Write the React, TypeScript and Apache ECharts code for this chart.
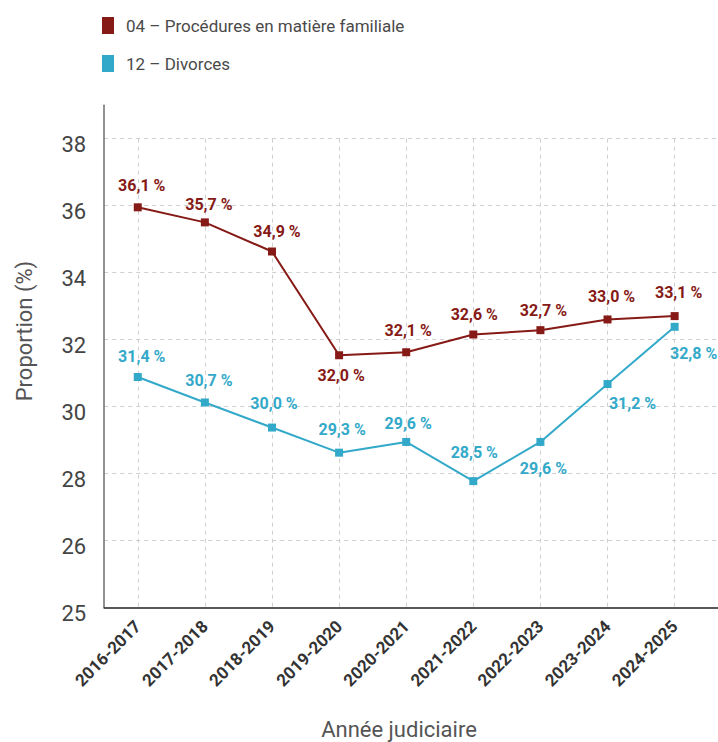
import React, { useEffect, useRef } from "react";
import * as echarts from "echarts";

// ---- data ----
const categories = [
  "2016-2017",
  "2017-2018",
  "2018-2019",
  "2019-2020",
  "2020-2021",
  "2021-2022",
  "2022-2023",
  "2023-2024",
  "2024-2025",
];
const familialName = "04 – Procédures en matière familiale";
const divorceName = "12 – Divorces";
const familialValues = [35.95, 35.5, 34.63, 31.53, 31.62, 32.15, 32.28, 32.6, 32.7];
const familialLabels = ["36,1 %", "35,7 %", "34,9 %", "32,0 %", "32,1 %", "32,6 %", "32,7 %", "33,0 %", "33,1 %"];
const divorceValues = [30.88, 30.12, 29.37, 28.62, 28.94, 27.77, 28.94, 30.67, 32.38];
const divorceLabels = ["31,4 %", "30,7 %", "30,0 %", "29,3 %", "29,6 %", "28,5 %", "29,6 %", "31,2 %", "32,8 %"];
const yMin = 24;
const yMinLabel = "25";
const yMax = 38;
const yStep = 2;

// ---- layout / style (label placement offsets, px) ----
const familialLabelOffsets: [number, number][] = [
  [4, -22], [4, -18], [5, -20], [2, 20], [2, -22], [1, -20], [3, -20], [4, -23], [4, -24],
];
const divorceLabelOffsets: [number, number][] = [
  [4, -21], [4, -22], [2, -24], [3, -23], [2, -18], [1, -29], [3, 27], [25, 19], [19, 27],
];

const RED = "#861a16";
const CYAN = "#33a9c9";
const FONT = "Roboto, 'Noto Sans', sans-serif";

export default function App() {
  const ref = useRef<HTMLDivElement>(null);
  useEffect(() => {
    if (!ref.current) return;
    const chart = echarts.init(ref.current, undefined, { renderer: "svg" });
    const gridLeft = 104.2;
    const gridBottom = 742 - 607.3;
    const mkSeries = (
      name: string,
      values: number[],
      labels: string[],
      offsets: [number, number][],
      color: string
    ) => ({
      type: "line",
      name,
      xAxisIndex: 0,
      yAxisIndex: 0,
      data: values.map((v, i) => ({ value: v, label: { offset: offsets[i] } })),
      symbol: "rect",
      symbolSize: 8,
      lineStyle: { color, width: 2 },
      itemStyle: { color },
      label: {
        show: true,
        position: "inside",
        formatter: (p: any) => labels[p.dataIndex],
        color,
        fontFamily: FONT,
        fontWeight: "bold",
        fontSize: 16,
      },
      emphasis: { disabled: true },
    });
    chart.setOption({
      animation: false,
      backgroundColor: "#ffffff",
      legend: {
        left: 102,
        top: 17,
        padding: 0,
        orient: "vertical",
        icon: "rect",
        itemWidth: 12,
        itemHeight: 17,
        itemGap: 21,
        selectedMode: false,
        textStyle: {
          fontFamily: FONT,
          fontSize: 17,
          color: "#4a4a4a",
          lineHeight: 17,
          padding: [0, 0, 0, 7],
        },
        data: [familialName, divorceName],
      },
      grid: [
        { left: gridLeft, right: 718 - 708.2, top: 138.7, bottom: gridBottom },
        { left: gridLeft, right: 0, top: 138.7 - 33.47, bottom: gridBottom },
      ],
      xAxis: [
        {
          type: "category",
          gridIndex: 0,
          data: categories,
          boundaryGap: true,
          axisLine: { show: false },
          axisTick: { show: false },
          axisLabel: {
            interval: 0,
            rotate: 45,
            margin: 16,
            color: "#333",
            fontFamily: FONT,
            fontWeight: "bold",
            fontSize: 17,
          },
          splitLine: {
            show: true,
            alignWithLabel: true,
            interval: 0,
            lineStyle: { color: "#cfcfcf", type: [4, 4], width: 1 },
          },
        },
        {
          type: "value",
          gridIndex: 1,
          min: 0,
          max: 1,
          axisLine: { show: true, onZero: false, lineStyle: { color: "#222", width: 1.6 } },
          axisTick: { show: false },
          axisLabel: { show: false },
          splitLine: { show: false },
        },
      ],
      yAxis: [
        {
          type: "value",
          gridIndex: 0,
          min: yMin,
          max: yMax,
          interval: yStep,
          show: false,
          splitLine: { show: false },
        },
        {
          type: "value",
          gridIndex: 1,
          min: yMin,
          max: yMax + 1,
          interval: yStep,
          axisLine: { show: true, lineStyle: { color: "#6e6e6e", width: 1.5 } },
          axisTick: { show: false },
          axisLabel: {
            show: true,
            showMaxLabel: false,
            margin: 18,
            color: "#444",
            fontFamily: FONT,
            fontSize: 22,
            verticalAlign: "top",
            lineHeight: 12,
            formatter: (v: number) => (v === yMin ? yMinLabel : v > yMax ? "" : String(v)),
          },
          splitLine: {
            show: true,
            showMinLine: false,
            showMaxLine: false,
            lineStyle: { color: "#cfcfcf", type: [4, 4], width: 1 },
          },
        },
      ],
      graphic: [
        {
          type: "text",
          x: 24,
          y: 331,
          rotation: Math.PI / 2,
          style: {
            text: "Proportion (%)",
            fontFamily: FONT,
            fontSize: 22,
            fill: "#555",
            textAlign: "center",
            textVerticalAlign: "middle",
          },
        },
        {
          type: "text",
          x: 399,
          y: 729,
          style: {
            text: "Année judiciaire",
            fontFamily: FONT,
            fontSize: 22,
            fill: "#555",
            textAlign: "center",
            textVerticalAlign: "middle",
          },
        },
      ],
      series: [
        mkSeries(divorceName, divorceValues, divorceLabels, divorceLabelOffsets, CYAN),
        mkSeries(familialName, familialValues, familialLabels, familialLabelOffsets, RED),
      ],
    });
    return () => chart.dispose();
  }, []);
  return (
    <div
      ref={ref}
      style={{ position: "fixed", left: 0, top: 0, width: 718, height: 742 }}
    />
  );
}
